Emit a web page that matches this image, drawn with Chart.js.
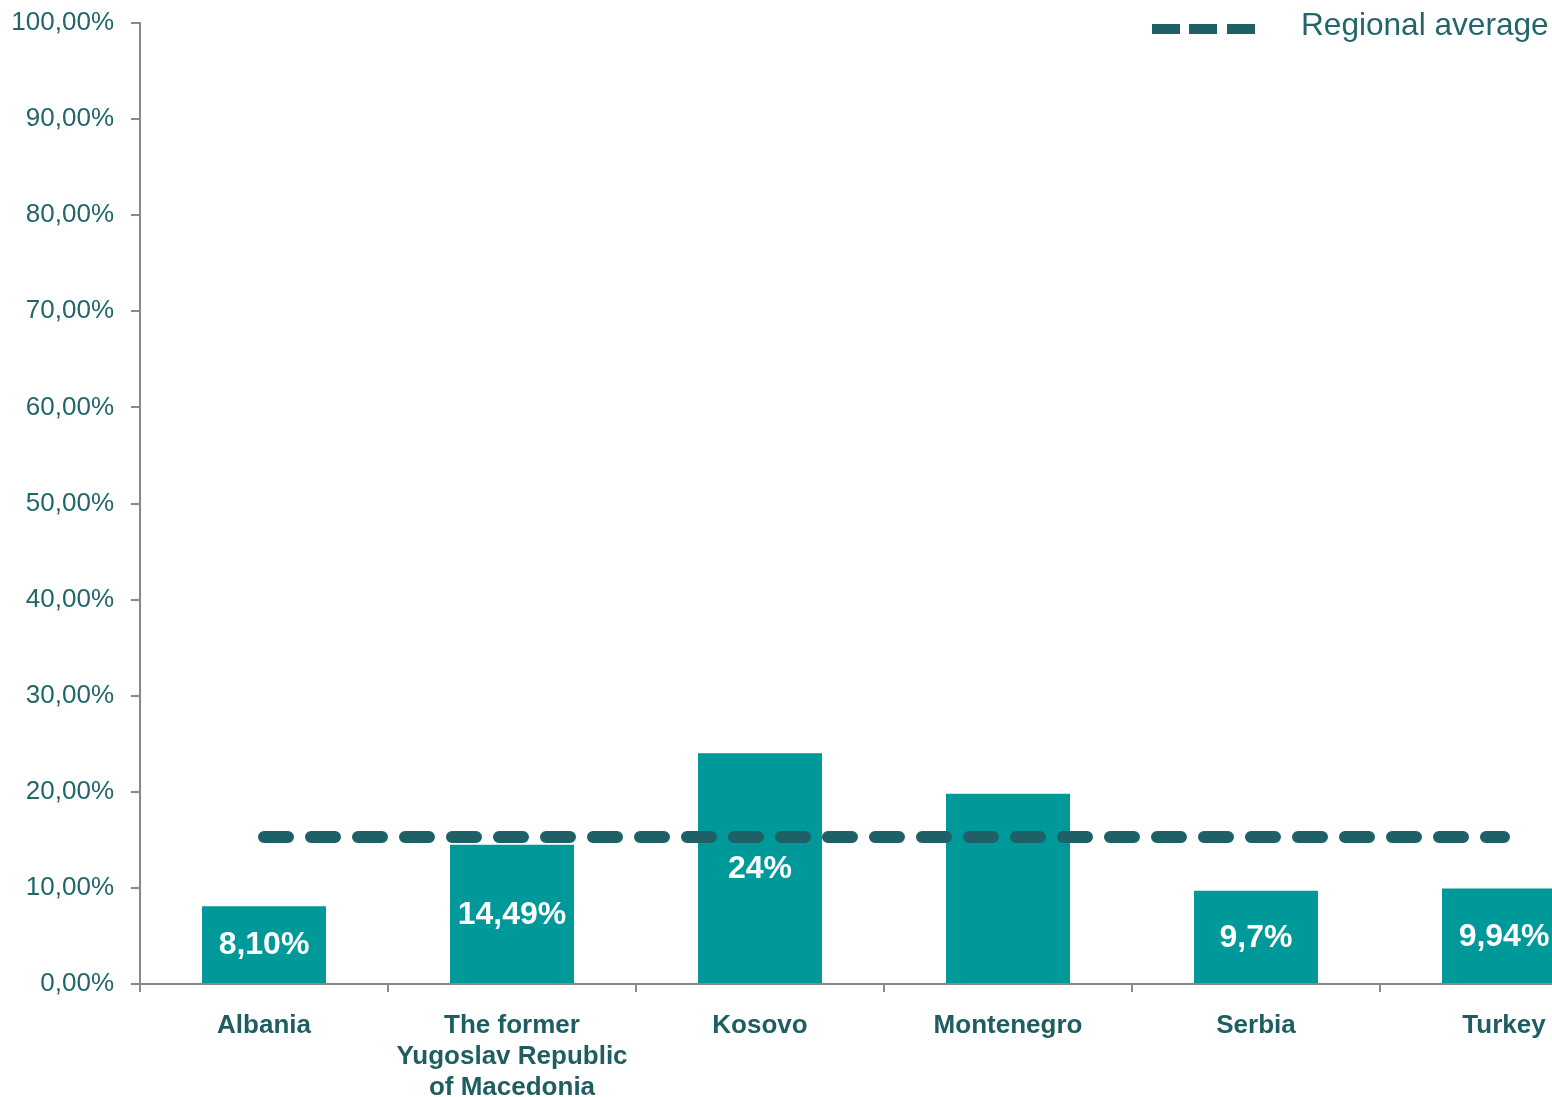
<!DOCTYPE html>
<html><head><meta charset="utf-8">
<script src="https://cdn.jsdelivr.net/npm/chart.js@4.4.1/dist/chart.umd.min.js"></script>
<style>
html,body{margin:0;padding:0;background:#fff;overflow:hidden;width:1552px;height:1097px;}
#wrap{position:relative;width:1640px;height:1097px;}
#legend{position:absolute;left:1152px;top:0;width:420px;height:60px;font-family:Arial,'Liberation Sans',sans-serif;font-size:31.6px;line-height:32px;color:#22666B;}
.dash{position:absolute;top:24px;width:28px;height:10px;background:#1F6066;}
#legtext{position:absolute;left:149px;top:8px;white-space:nowrap;}
</style></head>
<body>
<div id="wrap">
<canvas id="c" width="1640" height="1097"></canvas>
<div id="legend">
  <span class="dash" style="left:0px"></span>
  <span class="dash" style="left:37px"></span>
  <span class="dash" style="left:75px"></span>
  <span id="legtext"></span>
</div>
</div>
<script>
const categories = ['Albania', ['The former', 'Yugoslav Republic', 'of Macedonia'], 'Kosovo', 'Montenegro', 'Serbia', 'Turkey'];
const values = [8.10, 14.49, 24, 19.8, 9.7, 9.94];
const dataLabels = ['8,10%', '14,49%', '24%', '', '9,7%', '9,94%'];
const regionalAverage = [15.3, 15.3, 15.3, 15.3, 15.3, 15.3];
const averageName = 'Regional average';
const yTickLabels = ['0,00%','10,00%','20,00%','30,00%','40,00%','50,00%','60,00%','70,00%','80,00%','90,00%','100,00%'];

document.getElementById('legtext').textContent = averageName;

Chart.defaults.font.family = "Arial, 'Liberation Sans', sans-serif";

const barLabelPlugin = {
  id: 'barLabels',
  afterDatasetsDraw(chart) {
    const meta = chart.getDatasetMeta(1);
    const ctx = chart.ctx;
    ctx.save();
    ctx.fillStyle = '#ffffff';
    ctx.font = "bold 32px Arial, 'Liberation Sans', sans-serif";
    ctx.textAlign = 'center';
    ctx.textBaseline = 'middle';
    meta.data.forEach((bar, i) => {
      const t = dataLabels[i];
      if (!t) return;
      const yMid = (bar.y + bar.base) / 2;
      ctx.fillText(t, bar.x, yMid + 1);
    });
    ctx.restore();
  }
};

new Chart(document.getElementById('c'), {
  data: {
    labels: categories,
    datasets: [
      {
        type: 'line',
        label: averageName,
        data: regionalAverage,
        borderColor: '#1F6066',
        borderWidth: 12,
        borderDash: [24, 23],
        borderCapStyle: 'round',
        pointRadius: 0,
        fill: false,
        order: 0
      },
      {
        type: 'bar',
        label: 'Value',
        data: values,
        backgroundColor: '#00999A',
        categoryPercentage: 1.0,
        barPercentage: 0.5,
        order: 1
      }
    ]
  },
  options: {
    responsive: false,
    animation: false,
    layout: { padding: { top: 23, right: 12, left: 0, bottom: 0 } },
    plugins: { legend: { display: false }, tooltip: { enabled: false } },
    scales: {
      x: {
        afterFit(s) { s.height = 113; },
        grid: { drawOnChartArea: false, drawTicks: true, tickLength: 8, color: '#898989', lineWidth: 2, offset: true },
        border: { color: '#898989', width: 2 },
        ticks: { color: '#1E5E62', font: { size: 26, weight: 'bold', lineHeight: 1.2 }, padding: 18, maxRotation: 0, autoSkip: false }
      },
      y: {
        min: 0, max: 100,
        afterFit(s) { s.width = 140; s.paddingTop = 0; s.paddingBottom = 0; },
        grid: { drawOnChartArea: false, drawTicks: true, tickLength: 9, color: '#898989', lineWidth: 2 },
        border: { color: '#898989', width: 2 },
        ticks: { stepSize: 10, color: '#22666B', font: { size: 26 }, padding: 17,
          callback: (v, i) => yTickLabels[i] }
      }
    }
  },
  plugins: [barLabelPlugin]
});
</script>
</body></html>
